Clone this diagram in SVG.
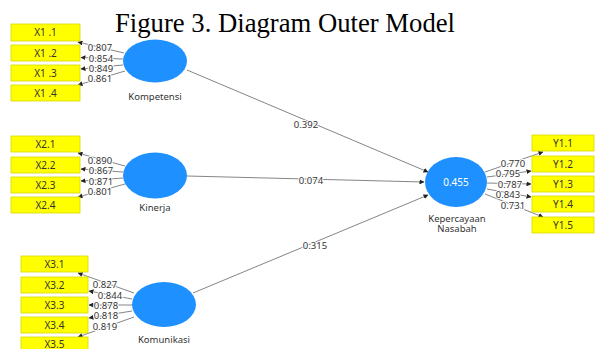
<svg xmlns="http://www.w3.org/2000/svg" width="595" height="349" viewBox="0 0 595 349">
  <defs>
    <marker id="arr" viewBox="0 0 10 10" refX="9" refY="5" markerWidth="5" markerHeight="5" orient="auto" markerUnits="userSpaceOnUse">
      <path d="M0,0 L10,5 L0,10 z" fill="#222"/>
    </marker>
    <style>
      .ind rect { fill: #ffff00; stroke: #d8d800; stroke-width: 0.8; }
      .ind text { font-family: "Noto Sans", "Open Sans", sans-serif; font-size: 10px; fill: #333; text-anchor: middle; }
      .lv ellipse { fill: #1e90ff; }
      .lv text { font-family: "Noto Sans", "Open Sans", sans-serif; font-size: 9.5px; fill: #333; text-anchor: middle; }
      .lv text.r2 { fill: #ffffff; font-size: 10px; }
      .conn line { stroke: #666; stroke-width: 0.8; marker-end: url(#arr); }
      .conn text { font-family: "Noto Sans", "Open Sans", sans-serif; font-size: 9.5px; fill: #333; text-anchor: middle; paint-order: stroke; stroke: #fff; stroke-width: 2px; stroke-linejoin: round; }
      .title { font-family: "Liberation Serif", serif; font-size: 27px; fill: #000; }
    </style>
  </defs>
  <rect width="595" height="349" fill="#ffffff"/>
  <text class="title" x="115" y="32" textLength="340" lengthAdjust="spacingAndGlyphs">Figure 3. Diagram Outer Model</text>

  <!-- connectors: loadings and path coefficients -->
  <g id="connectors" class="conn">
    <!-- Kompetensi loadings -->
    <line x1="124" y1="53" x2="78" y2="42"/>
    <line x1="123" y1="59" x2="81" y2="57.5"/>
    <line x1="123" y1="65" x2="81" y2="69"/>
    <line x1="125" y1="71" x2="78" y2="85"/>
    <text x="100" y="51">0.807</text>
    <text x="101" y="61.5">0.854</text>
    <text x="101" y="71.5">0.849</text>
    <text x="100" y="82">0.861</text>
    <!-- Kinerja loadings -->
    <line x1="125" y1="166" x2="78" y2="153"/>
    <line x1="123" y1="172" x2="81" y2="169"/>
    <line x1="123" y1="178" x2="81" y2="181"/>
    <line x1="125" y1="184" x2="78" y2="197"/>
    <text x="100" y="163.5">0.890</text>
    <text x="101" y="174">0.867</text>
    <text x="101" y="184.5">0.871</text>
    <text x="100" y="195">0.801</text>
    <!-- Komunikasi loadings -->
    <line x1="134" y1="293" x2="78" y2="273"/>
    <line x1="132" y1="299" x2="89" y2="291"/>
    <line x1="132" y1="305" x2="89" y2="305"/>
    <line x1="132" y1="311" x2="89" y2="318"/>
    <line x1="134" y1="317" x2="78" y2="337"/>
    <text x="105" y="288">0.827</text>
    <text x="110" y="298.5">0.844</text>
    <text x="106" y="308.5">0.878</text>
    <text x="106" y="318.5">0.818</text>
    <text x="105" y="330">0.819</text>
    <!-- Kepercayaan Nasabah loadings -->
    <line x1="485" y1="172" x2="543" y2="152"/>
    <line x1="487" y1="177" x2="531" y2="171"/>
    <line x1="487" y1="183" x2="531" y2="184"/>
    <line x1="487" y1="189" x2="531" y2="197"/>
    <line x1="485" y1="194" x2="543" y2="217"/>
    <text x="513" y="166.5">0.770</text>
    <text x="508" y="177">0.795</text>
    <text x="510" y="187.5">0.787</text>
    <text x="508" y="197.5">0.843</text>
    <text x="513" y="208.5">0.731</text>
    <!-- structural paths -->
    <line x1="187" y1="70" x2="428" y2="172"/>
    <line x1="187" y1="176" x2="424" y2="182"/>
    <line x1="193" y1="293" x2="428" y2="195"/>
    <text x="306" y="127.5">0.392</text>
    <text x="311" y="183.5">0.074</text>
    <text x="315" y="248.5">0.315</text>
  </g>

  <!-- indicators -->
  <g id="X1.1" class="ind"><rect x="11" y="24" width="69" height="17"/><text x="45.5" y="36">X1 .1</text></g>
  <g id="X1.2" class="ind"><rect x="11" y="45" width="69" height="16"/><text x="45.5" y="56.5">X1 .2</text></g>
  <g id="X1.3" class="ind"><rect x="11" y="65" width="69" height="16"/><text x="45.5" y="76.5">X1 .3</text></g>
  <g id="X1.4" class="ind"><rect x="11" y="85" width="69" height="16"/><text x="45.5" y="96.5">X1 .4</text></g>

  <g id="X2.1" class="ind"><rect x="11" y="136" width="69" height="16"/><text x="45.5" y="147.5">X2.1</text></g>
  <g id="X2.2" class="ind"><rect x="11" y="157" width="69" height="16"/><text x="45.5" y="168.5">X2.2</text></g>
  <g id="X2.3" class="ind"><rect x="11" y="177" width="69" height="16"/><text x="45.5" y="188.5">X2.3</text></g>
  <g id="X2.4" class="ind"><rect x="11" y="197" width="69" height="16"/><text x="45.5" y="208.5">X2.4</text></g>

  <g id="X3.1" class="ind"><rect x="21" y="256" width="67" height="16"/><text x="54.5" y="267.5">X3.1</text></g>
  <g id="X3.2" class="ind"><rect x="21" y="277" width="67" height="16"/><text x="54.5" y="288.5">X3.2</text></g>
  <g id="X3.3" class="ind"><rect x="21" y="297" width="67" height="16"/><text x="54.5" y="308.5">X3.3</text></g>
  <g id="X3.4" class="ind"><rect x="21" y="317" width="67" height="16"/><text x="54.5" y="328.5">X3.4</text></g>
  <g id="X3.5" class="ind"><rect x="21" y="337" width="67" height="16"/><text x="54.5" y="348">X3.5</text></g>

  <g id="Y1.1" class="ind"><rect x="532" y="135" width="62" height="16"/><text x="563" y="146.5">Y1.1</text></g>
  <g id="Y1.2" class="ind"><rect x="532" y="156" width="62" height="16"/><text x="563" y="167.5">Y1.2</text></g>
  <g id="Y1.3" class="ind"><rect x="532" y="176" width="62" height="16"/><text x="563" y="187.5">Y1.3</text></g>
  <g id="Y1.4" class="ind"><rect x="532" y="196" width="62" height="16"/><text x="563" y="207.5">Y1.4</text></g>
  <g id="Y1.5" class="ind"><rect x="532" y="217" width="62" height="16"/><text x="563" y="228.5">Y1.5</text></g>

  <!-- latent variables -->
  <g id="Kompetensi" class="lv"><ellipse cx="155" cy="61" rx="32" ry="21.5"/><text x="155" y="100">Kompetensi</text></g>
  <g id="Kinerja" class="lv"><ellipse cx="155" cy="175.5" rx="32" ry="23"/><text x="155" y="211">Kinerja</text></g>
  <g id="Komunikasi" class="lv"><ellipse cx="164" cy="304.5" rx="32" ry="22.5"/><text x="164" y="343">Komunikasi</text></g>
  <g id="KepercayaanNasabah" class="lv"><ellipse cx="456" cy="182" rx="31" ry="25"/><text class="r2" x="456" y="185.5">0.455</text><text x="457" y="222">Kepercayaan</text><text x="457" y="232">Nasabah</text></g>
</svg>
